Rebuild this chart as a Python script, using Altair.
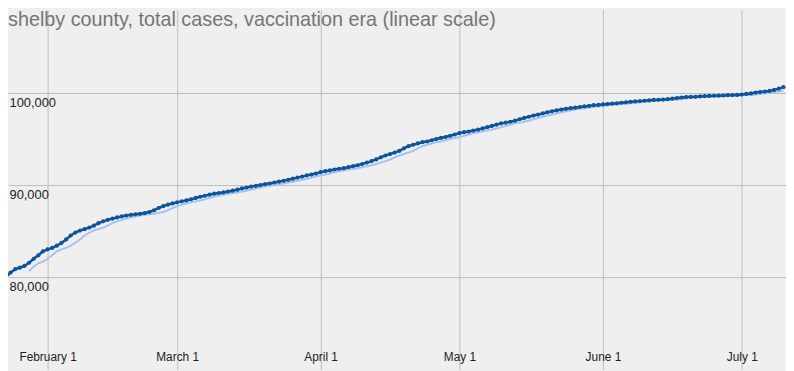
import altair as alt
import pandas as pd

start_date = "2021-01-22"

total_cases = [
    79410, 80030, 80520, 80890, 81050, 81240, 81590, 82020, 82400, 82830,
    83040, 83200, 83440, 83740, 84120, 84550, 84870, 85090, 85240, 85410,
    85620, 85890, 86090, 86250, 86380, 86510, 86620, 86720, 86790, 86850,
    86910, 86990, 87100, 87290, 87540, 87740, 87900, 88030, 88150, 88260,
    88360, 88480, 88630, 88760, 88870, 88990, 89090, 89170, 89230, 89330,
    89420, 89530, 89660, 89760, 89860, 89940, 90030, 90130, 90200, 90310,
    90400, 90490, 90600, 90720, 90840, 90950, 91080, 91170, 91280, 91430,
    91540, 91620, 91720, 91800, 91860, 91970, 92080, 92180, 92320, 92470,
    92630, 92810, 93040, 93240, 93400, 93560, 93740, 94020, 94250, 94410,
    94550, 94690, 94760, 94900, 95030, 95150, 95250, 95380, 95520, 95670,
    95770, 95840, 95950, 96050, 96180, 96320, 96450, 96590, 96730, 96810,
    96910, 97020, 97180, 97320, 97450, 97580, 97690, 97810, 97940, 98040,
    98140, 98230, 98310, 98380, 98440, 98510, 98570, 98630, 98710, 98740,
    98790, 98830, 98870, 98910, 98970, 99020, 99070, 99120, 99150, 99190,
    99240, 99280, 99300, 99320, 99360, 99420, 99480, 99540, 99590, 99610,
    99620, 99660, 99690, 99710, 99730, 99740, 99760, 99790, 99810, 99820,
    99860, 99930, 99990, 100080, 100140, 100190, 100260, 100360, 100500, 100660,
]

# 7-day average line (starts on the 7th day)
avg_cases = [
    80680, 81190, 81530, 81720,
    82020, 82400, 82830, 83040, 83200, 83440, 83740, 84120, 84550, 84870,
    85090, 85240, 85410, 85620, 85890, 86090, 86250, 86380, 86510, 86620,
    86720, 86790, 86850, 86910, 86990, 87100, 87290, 87540, 87740, 87900,
    88030, 88150, 88260, 88360, 88480, 88630, 88760, 88870, 88990, 89090,
    89170, 89230, 89330, 89420, 89530, 89660, 89760, 89860, 89940, 90030,
    90130, 90200, 90310, 90400, 90490, 90600, 90720, 90840, 90950, 91080,
    91170, 91280, 91430, 91540, 91620, 91720, 91800, 91860, 91970, 92080,
    92180, 92320, 92470, 92630, 92810, 93040, 93240, 93400, 93560, 93740,
    94020, 94250, 94410, 94550, 94690, 94760, 94900, 95030, 95150, 95250,
    95380, 95520, 95670, 95770, 95840, 95950, 96050, 96180, 96320, 96450,
    96590, 96730, 96810, 96910, 97020, 97180, 97320, 97450, 97580, 97690,
    97810, 97940, 98040, 98140, 98230, 98310, 98380, 98440, 98510, 98570,
    98630, 98710, 98740, 98790, 98830, 98870, 98910, 98970, 99020, 99070,
    99120, 99150, 99190, 99240, 99280, 99300, 99320, 99360, 99420, 99480,
    99540, 99590, 99610, 99620, 99660, 99690, 99710, 99730, 99740, 99760,
    99790, 99810, 99820, 99860, 99930, 99990, 100080, 100140, 100190, 100260,
]

y_ticks = [80000, 90000, 100000]
month_ticks = [(2, 1), (3, 1), (4, 1), (5, 1), (6, 1), (7, 1)]

dates = pd.date_range(start_date, periods=len(total_cases), freq="D")
df_total = pd.DataFrame({"date": dates.strftime("%Y-%m-%dT%H:%M:%S"), "cases": total_cases})
avg_dates = dates[len(total_cases) - len(avg_cases):]
df_avg = pd.DataFrame({"date": avg_dates.strftime("%Y-%m-%dT%H:%M:%S"), "cases": avg_cases})

x_scale = alt.Scale(
    domain=[
        alt.DateTime(year=2021, month=1, date=23, hours=10, minutes=40),
        alt.DateTime(year=2021, month=7, date=10, hours=13, minutes=30),
    ]
)
y_scale = alt.Scale(domain=[70030, 109065], nice=False, zero=False)

x_axis = alt.Axis(
    title=None,
    values=[alt.DateTime(year=2021, month=m, date=d) for m, d in month_ticks],
    format="%B %-d",
    grid=True,
    gridColor="#bdbdbd",
    domain=False,
    ticks=False,
    labelAlign="center",
    labelBaseline="alphabetic",
    labelPadding=-9,
    labelFlush=False,
    labelOverlap=False,
    labelFont="Liberation Sans",
    labelFontSize=12,
    labelColor="#222222",
)
y_axis = alt.Axis(
    title=None,
    values=y_ticks,
    format=",d",
    grid=True,
    gridColor="#bdbdbd",
    domain=False,
    ticks=False,
    labelAlign="left",
    labelBaseline="alphabetic",
    labelPadding=-1,
    labelOffset=13,
    labelFlush=False,
    labelOverlap=False,
    labelFont="Liberation Sans",
    labelFontSize=13,
    labelColor="#222222",
)

avg_line = alt.Chart(df_avg).mark_line(color="#a4c2f4", strokeWidth=2, clip=True).encode(
    x=alt.X("date:T", scale=x_scale, axis=x_axis),
    y=alt.Y("cases:Q", scale=y_scale, axis=y_axis),
)

total_line = alt.Chart(df_total).mark_line(
    color="#0d5499",
    strokeWidth=2.5,
    clip=True,
    point=alt.OverlayMarkDef(color="#0d5499", filled=True, size=18, shape="circle", opacity=1),
).encode(
    x=alt.X("date:T", scale=x_scale),
    y=alt.Y("cases:Q", scale=y_scale),
)

chart = (
    alt.layer(avg_line, total_line)
    .properties(
        width=786,
        height=363,
        autosize=alt.AutoSizeParams(type="none"),
        padding=0,
        background="#efefef",
        title=alt.TitleParams(
            text="shelby county, total cases, vaccination era (linear scale)",
            anchor="start",
            orient="top",
            baseline="alphabetic",
            offset=0,
            dy=36,
            font="Liberation Sans",
            fontSize=20,
            fontWeight="normal",
            color="#757575",
        ),
    )
    .configure_view(stroke=None, fill="#efefef")
)

chart.save("out.html", embed_options={"renderer": "svg", "actions": False})
